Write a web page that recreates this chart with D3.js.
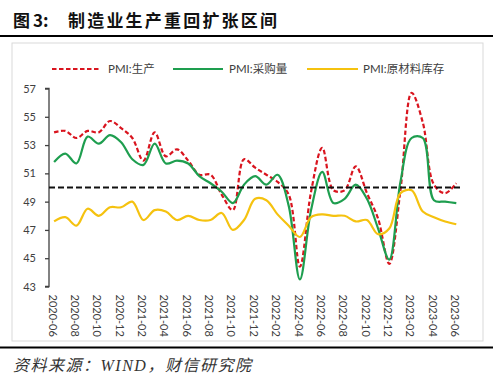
<!DOCTYPE html>
<html>
<head>
<meta charset="utf-8">
<script src="https://cdn.jsdelivr.net/npm/d3@7"></script>
<style>
  html, body { margin: 0; padding: 0; background: #fff; }
  svg { display: block; }
</style>
</head>
<body>
<svg id="chart" width="500" height="378"></svg>
<script>
const months = ["2020-06","2020-07","2020-08","2020-09","2020-10","2020-11","2020-12",
  "2021-01","2021-02","2021-03","2021-04","2021-05","2021-06","2021-07","2021-08","2021-09","2021-10","2021-11","2021-12",
  "2022-01","2022-02","2022-03","2022-04","2022-05","2022-06","2022-07","2022-08","2022-09","2022-10","2022-11","2022-12",
  "2023-01","2023-02","2023-03","2023-04","2023-05","2023-06"];
const production = [53.9,54.0,53.5,54.0,53.9,54.7,54.2,
  53.5,51.9,53.9,52.2,52.7,51.9,50.9,50.9,49.5,48.4,52.0,51.4,
  50.9,50.4,49.5,44.4,49.7,52.8,49.8,49.8,51.5,49.6,47.8,44.6,
  49.8,56.7,54.6,50.2,49.6,50.3];
const purchase = [51.8,52.4,51.7,53.6,53.1,53.7,53.2,
  52.0,51.6,53.1,51.7,51.9,51.7,50.8,50.3,49.7,48.9,50.2,50.8,
  50.2,50.9,48.7,43.5,48.4,51.1,48.9,49.2,50.2,49.2,47.1,44.9,
  50.4,53.5,53.5,49.1,49.0,48.9];
const inventory = [47.6,47.9,47.3,48.5,48.0,48.6,48.6,
  49.0,47.7,48.4,48.3,47.7,48.0,47.7,47.7,48.2,47.0,47.7,49.2,
  49.1,48.1,47.3,46.5,47.9,48.1,48.0,48.0,47.6,47.7,46.7,47.1,
  49.6,49.8,48.3,47.9,47.6,47.4];
const threshold = 50;
const yTicks = [43,45,47,49,51,53,55,57];
const xTickLabels = months.filter((m, i) => i % 2 === 0);
const seriesNames = ["PMI:生产", "PMI:采购量", "PMI:原材料库存"];

const svg = d3.select("#chart");
const FONT = "Lato, 'Noto Sans CJK SC', sans-serif";

// Title
const title = svg.append("text").attr("y", 26.5)
  .attr("font-family", "'Noto Sans CJK SC', sans-serif").attr("font-weight", 700)
  .attr("font-size", 17).attr("fill", "#111");
title.append("tspan").attr("x", 13).text("图");
title.append("tspan").attr("x", 33).text("3:");
title.append("tspan").attr("x", 68).attr("letter-spacing", 2.2).text("制造业生产重回扩张区间");

svg.append("line").attr("x1", 0).attr("x2", 493).attr("y1", 36).attr("y2", 36)
  .attr("stroke", "#000").attr("stroke-width", 2);

// chart frame
svg.append("rect").attr("x", 12).attr("y", 43).attr("width", 471).attr("height", 298)
  .attr("fill", "#fff").attr("stroke", "#d9d9d9").attr("stroke-width", 1);

svg.append("line").attr("x1", 0).attr("x2", 493).attr("y1", 347.5).attr("y2", 347.5)
  .attr("stroke", "#000").attr("stroke-width", 2);

svg.append("text").attr("x", 13).attr("y", 370.5)
  .attr("font-family", "'Liberation Serif', 'Noto Sans CJK SC', serif").attr("font-style", "italic")
  .attr("font-size", 16).attr("letter-spacing", 1.5).attr("fill", "#333")
  .text("资料来源：WIND，财信研究院");

// scales
const x = d3.scalePoint().domain(months).range([54.1, 456.3]);
const y = d3.scaleLinear().domain([43, 57]).range([286.5, 88.5]);

// y axis
const yAxis = svg.append("g").attr("transform", "translate(49,0)")
  .call(d3.axisLeft(y).tickValues(yTicks).tickSize(4).tickPadding(9).tickFormat(d3.format("d")));
yAxis.selectAll("path, line").attr("stroke", "#404040").attr("stroke-width", 1.3);
yAxis.selectAll("text").attr("font-family", FONT).attr("font-size", 11).attr("fill", "#404040");
yAxis.select(".domain").attr("d", `M-4,${y(57)}H0V${y(43)}H-4`);

// x labels
svg.append("g").selectAll("text").data(xTickLabels).join("text")
  .attr("transform", d => `translate(${x(d) - 1.5},294.5) rotate(90)`)
  .attr("dy", "0.35em")
  .attr("font-family", FONT).attr("font-size", 11).attr("fill", "#404040")
  .text(d => d);

const line = d3.line().x((d, i) => x(months[i])).y(d => y(d)).curve(d3.curveCatmullRom.alpha(0.5));

const series = [
  {name: seriesNames[0], values: production, color: "#d9141e", dash: "4.5,2.5"},
  {name: seriesNames[1], values: purchase, color: "#1e9e4f", dash: null},
  {name: seriesNames[2], values: inventory, color: "#f5c20f", dash: null}
];

series.forEach(s => {
  svg.append("path").attr("d", line(s.values)).attr("fill", "none")
    .attr("stroke", s.color).attr("stroke-width", 2.2)
    .attr("stroke-dasharray", s.dash);
});

// 50 threshold line
svg.append("line").attr("x1", 49).attr("x2", 462)
  .attr("y1", y(threshold)).attr("y2", y(threshold))
  .attr("stroke", "#111").attr("stroke-width", 2.2).attr("stroke-dasharray", "6,3");

// legend
const legendItems = [
  {x1: 52, x2: 101, tx: 108},
  {x1: 173, x2: 223, tx: 229},
  {x1: 307, x2: 358, tx: 363}
];
series.forEach((s, i) => {
  const L = legendItems[i];
  svg.append("line").attr("x1", L.x1).attr("x2", L.x2).attr("y1", 69).attr("y2", 69)
    .attr("stroke", s.color).attr("stroke-width", 2.2).attr("stroke-dasharray", s.dash);
  svg.append("text").attr("x", L.tx).attr("y", 69).attr("dy", "0.35em")
    .attr("font-family", FONT).attr("font-size", 11.5).attr("fill", "#404040")
    .text(s.name);
});
</script>
</body>
</html>
